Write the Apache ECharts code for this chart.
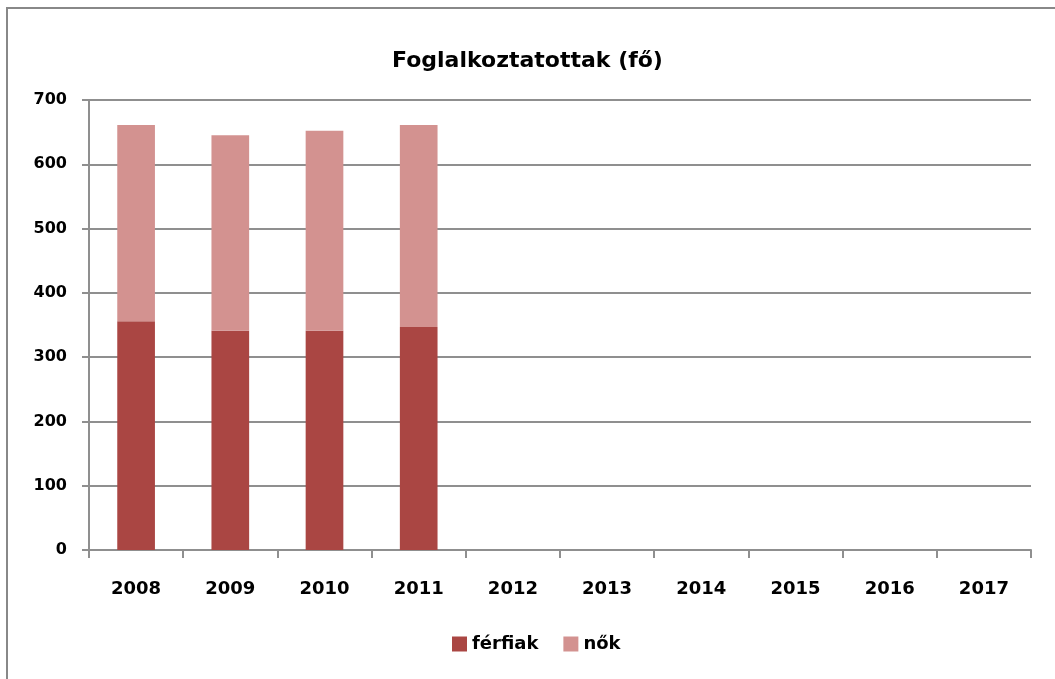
<!DOCTYPE html>
<html>
<head>
<meta charset="utf-8">
<script src="https://cdn.jsdelivr.net/npm/echarts@6/dist/echarts.min.js"></script>
<style>
  html, body { margin: 0; padding: 0; background: #fff; }
  #frame { position: absolute; left: 6px; top: 7px; width: 1100px; height: 720px;
           border-left: 2px solid #888; border-top: 2px solid #888; }
  #chart { position: absolute; left: 0; top: 0; width: 1055px; height: 679px; }
</style>
</head>
<body>
<div id="frame"></div>
<div id="chart"></div>
<script>
  // evek es letszamok
  var years = ['2008', '2009', '2010', '2011', '2012', '2013', '2014', '2015', '2016', '2017'];
  var ferfiak = [356, 341, 341, 347, null, null, null, null, null, null];
  var nok = [305, 304, 311, 314, null, null, null, null, null, null];
  var yTicks = [0, 100, 200, 300, 400, 500, 600, 700];

  var font = 'DejaVu Sans';
  var gray = '#8f8f8f';

  var chart = echarts.init(document.getElementById('chart'));
  var option = {
    animation: false,
    title: {
      text: 'Foglalkoztatottak (fő)',
      left: 'center',
      top: 45,
      textStyle: { fontFamily: font, fontWeight: 'bold', fontSize: 22, color: '#000' }
    },
    legend: {
      data: ['férfiak', 'nők'],
      left: 447,
      top: 630,
      itemWidth: 15,
      itemHeight: 15,
      itemGap: 25,
      icon: 'rect',
      textStyle: { fontFamily: font, fontWeight: 'bold', fontSize: 18, color: '#000' }
    },
    grid: { left: 89, right: 24, top: 100, bottom: 129, containLabel: false },
    xAxis: {
      type: 'category',
      data: years,
      boundaryGap: true,
      axisLine: { lineStyle: { color: gray, width: 2 } },
      axisTick: { show: true, length: 8, alignWithLabel: false, lineStyle: { color: gray, width: 2 } },
      axisLabel: { margin: 30, fontFamily: font, fontWeight: 'bold', fontSize: 18, color: '#000' }
    },
    yAxis: {
      type: 'value',
      min: yTicks[0],
      max: yTicks[yTicks.length - 1],
      interval: 100,
      axisLine: { show: true, lineStyle: { color: gray, width: 2 } },
      axisTick: { show: true, length: 7, lineStyle: { color: gray, width: 2 } },
      splitLine: { lineStyle: { color: gray, width: 2 } },
      axisLabel: { margin: 22, fontFamily: font, fontWeight: 'bold', fontSize: 16, color: '#000' }
    },
    series: [
      {
        name: 'férfiak',
        type: 'bar',
        stack: 'ossz',
        data: ferfiak,
        barWidth: '40%',
        itemStyle: { color: '#AA4643' }
      },
      {
        name: 'nők',
        type: 'bar',
        stack: 'ossz',
        data: nok,
        barWidth: '40%',
        itemStyle: { color: '#D39290' }
      }
    ]
  };
  chart.setOption(option);
</script>
</body>
</html>
